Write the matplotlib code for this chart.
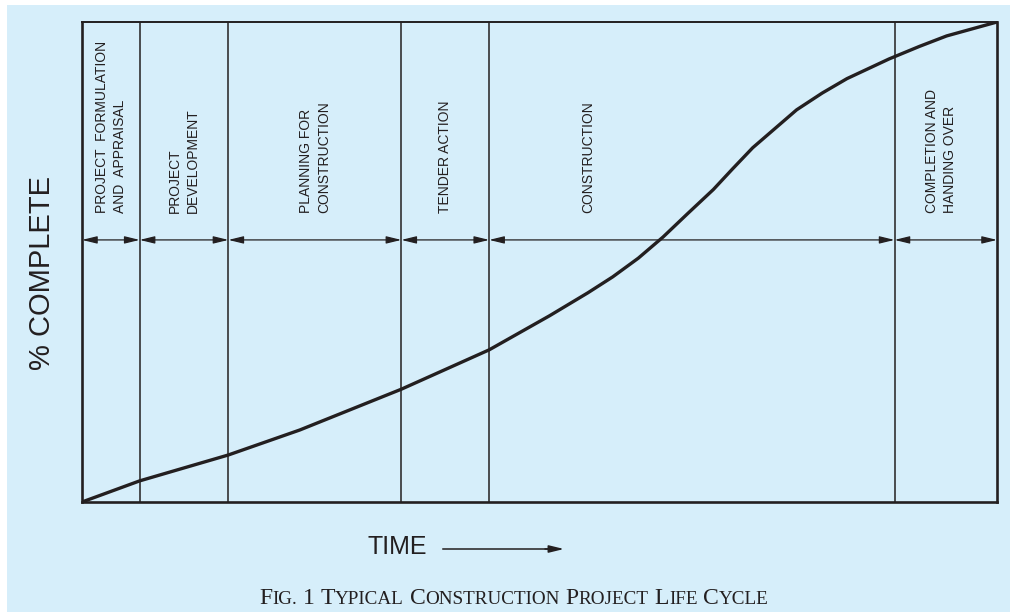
import matplotlib.pyplot as plt
from matplotlib.patches import Rectangle

# phase boundaries on the time axis (% of total duration)
boundaries = [0, 6.3, 16.0, 34.9, 44.5, 88.8, 100]
phase_labels = [
    "PROJECT  FORMULATION\nAND  APPRAISAL",
    "PROJECT\nDEVELOPMENT",
    "PLANNING FOR\nCONSTRUCTION",
    "TENDER ACTION",
    "CONSTRUCTION",
    "COMPLETION AND\nHANDING OVER",
]

# S-curve: time (%) vs % complete
time_pct = [0, 6.3, 16.0, 23.8, 34.9, 44.5, 51.1, 55.3, 58.0, 60.8, 63.5, 66.2, 69.0,
            71.1, 73.3, 78.1, 80.9, 83.6, 88.2, 91.5, 94.5, 100]
complete_pct = [0, 4.4, 9.8, 15.0, 23.5, 31.7, 38.8, 43.6, 46.9, 50.8, 55.2, 60.1, 65.1,
                69.4, 73.8, 81.7, 85.2, 88.2, 92.3, 94.9, 97.1, 100]

ink = "#231F20"
bg = "#D6EEFA"

fig = plt.figure(figsize=(10.1, 6.12), dpi=100, facecolor="white")
fig.patches.append(Rectangle((7 / 1010, 0), 1, 1 - 5 / 612, transform=fig.transFigure,
                             facecolor=bg, edgecolor="none", zorder=-10))

ax = fig.add_axes([82 / 1010, 110 / 612, 915 / 1010, 480 / 612])
ax.set_facecolor("none")
ax.set_xlim(0, 100)
ax.set_ylim(0, 100)
ax.set_xticks([])
ax.set_yticks([])
for side in ["left", "bottom", "right"]:
    ax.spines[side].set_linewidth(1.9)
    ax.spines[side].set_color(ink)
ax.spines["top"].set_linewidth(1.4)
ax.spines["top"].set_color(ink)

for b in boundaries[1:-1]:
    ax.axvline(b, color=ink, lw=1.1)

arrow_y = 54.6
label_y = 60.2
label_x = [(a + b) / 2 for a, b in zip(boundaries[:-1], boundaries[1:])]
label_x[4] = 55.3
label_x[5] = 93.9
for i, lab in enumerate(phase_labels):
    ax.annotate("", xy=(boundaries[i], arrow_y), xytext=(boundaries[i + 1], arrow_y),
                arrowprops=dict(arrowstyle="<|-|>,head_length=0.9,head_width=0.22",
                                color=ink, lw=0.9, shrinkA=0, shrinkB=0, mutation_scale=10))
    ax.text(label_x[i], label_y, lab, rotation=90, ha="center", va="bottom",
            multialignment="left", fontsize=10, family="Liberation Sans",
            color=ink, linespacing=1.4)

ax.plot(time_pct, complete_pct, color=ink, lw=2.4, solid_joinstyle="round",
        solid_capstyle="round")

fig.text(42 / 1010, 1 - 273 / 612, "% COMPLETE", rotation=90, ha="center", va="center",
         fontsize=21, family="Liberation Sans", color=ink)
fig.text(367 / 1010, 1 - 554 / 612, "TIME", ha="left", va="baseline",
         fontsize=18, family="Liberation Sans", color=ink)
fig.add_artist(plt.Line2D([443 / 1010, 552 / 1010], [1 - 549 / 612] * 2, color=ink, lw=1.1))
ax.annotate("", xy=(564 / 1010, 1 - 549 / 612), xytext=(545 / 1010, 1 - 549 / 612),
            xycoords="figure fraction", textcoords="figure fraction",
            arrowprops=dict(arrowstyle="-|>,head_length=0.9,head_width=0.22",
                            color=ink, lw=1.1, shrinkA=0, shrinkB=0, mutation_scale=10))

# caption in small caps, drawn piece by piece and centred
caption = "Fig. 1 Typical Construction Project Life Cycle"
big, small = 17, 13.8
pieces = []
for word in caption.split(" "):
    if pieces:
        pieces.append((" ", big))
    pieces.append((word[0].upper(), big))
    if len(word) > 1:
        pieces.append((word[1:].upper(), small))
renderer = fig.canvas.get_renderer()
artists = []
for txt, size in pieces:
    t = fig.text(0, 1 - 604 / 612, txt, fontsize=size, family="Liberation Serif",
                 color=ink, va="baseline", ha="left")
    artists.append(t)
widths = [a.get_window_extent(renderer).width for a in artists]
x = 514 - sum(widths) / 2
for a, w in zip(artists, widths):
    a.set_x(x / 1010)
    x += w

fig.savefig("out.png", dpi=100, facecolor="white")
